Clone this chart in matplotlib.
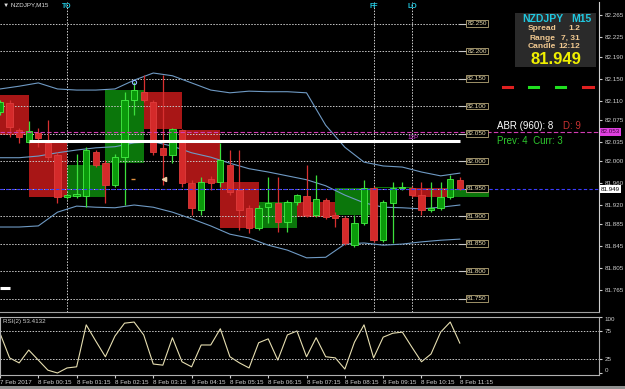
import numpy as np
import pandas as pd
import matplotlib
matplotlib.use('Agg')
import matplotlib.pyplot as plt
from matplotlib import transforms
from matplotlib.patches import Rectangle
from matplotlib.lines import Line2D

plt.rcParams['font.family'] = ['Liberation Sans', 'DejaVu Sans']

# NZDJPY M15 candles, index 0 = 8 Feb 00:15
idx = list(range(-4, 45))
opens = [82.089, 82.105, 82.056, 82.035, 82.051, 82.033, 82.011, 81.935, 81.936, 81.936,
         82.016, 81.996, 81.956, 82.007, 82.111, 82.125, 82.107, 82.024, 82.011, 82.056,
         81.960, 81.911, 81.967, 81.962, 81.993, 81.947, 81.915, 81.878, 81.916, 81.924,
         81.889, 81.925, 81.936, 81.902, 81.929, 81.902, 81.896, 81.847, 81.887, 81.951,
         81.856, 81.924, 81.951, 81.951, 81.938, 81.911, 81.915, 81.935, 81.965]
highs = [82.111, 82.111, 82.060, 82.073, 82.060, 82.075, 82.016, 81.940, 82.013, 82.025,
         82.020, 82.002, 82.013, 82.125, 82.144, 82.156, 82.111, 82.156, 82.060, 82.058,
         81.965, 81.971, 81.973, 82.033, 82.020, 82.020, 81.920, 81.920, 81.971, 81.971,
         81.929, 81.940, 81.993, 81.975, 81.933, 81.907, 81.900, 81.902, 81.965, 81.955,
         81.929, 81.962, 81.962, 81.955, 81.962, 81.962, 81.962, 81.975, 81.971]
lows = [82.084, 82.044, 82.033, 82.033, 82.025, 82.002, 81.924, 81.931, 81.933, 81.916,
        81.989, 81.924, 81.953, 81.920, 82.084, 82.107, 82.011, 81.956, 81.996, 81.953,
        81.902, 81.902, 81.947, 81.953, 81.938, 81.875, 81.869, 81.875, 81.887, 81.871,
        81.871, 81.920, 81.898, 81.898, 81.894, 81.880, 81.847, 81.844, 81.884, 81.853,
        81.853, 81.851, 81.947, 81.935, 81.902, 81.907, 81.911, 81.931, 81.947]
closes = [82.107, 82.062, 82.044, 82.055, 82.042, 82.007, 81.935, 81.938, 81.940, 82.020,
          81.993, 81.956, 82.007, 82.111, 82.129, 82.111, 82.016, 82.011, 82.058, 81.960,
          81.915, 81.962, 81.960, 82.002, 81.944, 81.911, 81.878, 81.915, 81.924, 81.889,
          81.925, 81.938, 81.902, 81.931, 81.898, 81.896, 81.851, 81.887, 81.951, 81.856,
          81.925, 81.951, 81.953, 81.938, 81.911, 81.915, 81.935, 81.967, 81.949]

# H1 boxes (start index of each hour, 23:00 .. 11:00)
h1_start = [-5, -1, 3, 7, 11, 15, 19, 23, 27, 31, 35, 39, 43]
h1_open = [82.120, 82.035, 81.935, 81.996, 82.125, 82.056, 81.962, 81.878, 81.925, 81.902, 81.951, 81.951, 81.935]
h1_close = [82.047, 81.935, 81.993, 82.129, 82.058, 81.960, 81.878, 81.925, 81.898, 81.951, 81.953, 81.935, 81.949]

# Bollinger bands, read every second bar
band_idx = list(range(-4, 45, 2))
bb_upper = [82.131, 82.136, 82.142, 82.131, 82.129, 82.129, 82.131, 82.147, 82.160, 82.155, 82.142, 82.129, 82.124,
            82.127, 82.126, 82.126, 82.124, 82.065, 82.025, 81.998, 81.991, 81.989, 81.980, 81.973, 81.978]
bb_mid = [82.006, 82.006, 82.009, 82.015, 82.020, 82.024, 82.026, 82.033, 82.035, 82.027, 82.015, 82.007, 81.996,
          81.986, 81.980, 81.973, 81.966, 81.955, 81.938, 81.924, 81.916, 81.915, 81.913, 81.916, 81.920]
bb_lower = [81.880, 81.880, 81.882, 81.907, 81.918, 81.916, 81.915, 81.920, 81.916, 81.907, 81.895, 81.882, 81.867,
            81.860, 81.847, 81.838, 81.824, 81.825, 81.849, 81.851, 81.847, 81.849, 81.853, 81.856, 81.858]

# RSI(2)
rsi = [71, 27, 18, 41, 23, 5, 0, 9, 11, 86, 57, 29, 66, 89, 91, 68, 16, 14, 63, 20, 11, 50, 50, 79, 29,
       18, 9, 54, 61, 23, 68, 75, 29, 63, 29, 27, 7, 55, 86, 27, 64, 71, 73, 46, 20, 34, 73, 91, 53.4]

grid_levels = [82.250, 82.200, 82.150, 82.100, 82.050, 82.000, 81.950, 81.900, 81.850, 81.800, 81.750]
price_ticks = [82.265, 82.225, 82.190, 82.150, 82.110, 82.075, 82.035, 82.000,
               81.960, 81.920, 81.885, 81.845, 81.805, 81.765]
time_pos = [-4] + list(range(0, 45, 4))
time_labels = ['7 Feb 2017'] + ['8 Feb %02d:15' % h for h in range(12)]
sessions = {'TO': 3, 'FF': 35, 'LO': 39}
bid = 81.949
abr_line = 82.053
box_line = 82.036

df = pd.DataFrame({'o': opens, 'h': highs, 'l': lows, 'c': closes}, index=idx)
up = df['c'] >= df['o']

W, H = 625, 389
def fx(x):
    return x / W
def fy(y):
    return 1 - y / H

fig = plt.figure(figsize=(6.25, 3.89), dpi=100, facecolor='black')
ax = fig.add_axes([0, fy(312), fx(599), (312 - 2) / H], facecolor='black')
ax2 = fig.add_axes([0, fy(375), fx(599), (375 - 317) / H], facecolor='black')

xmin, xmax = -4.0, 58.53
ax.set_xlim(xmin, xmax)
ax.set_ylim(81.7255, 82.2891)
ax2.set_xlim(xmin, xmax)
ax2.set_ylim(-3.6, 100)

# H1 boxes
h1_o = np.array(h1_open)
h1_c = np.array(h1_close)
h1_col = np.where(h1_c >= h1_o, '#0b760b', '#a81616')
ax.bar(h1_start, np.abs(h1_c - h1_o), bottom=np.minimum(h1_o, h1_c), width=4,
       align='edge', color=h1_col, linewidth=0, zorder=1)

# dotted round-number lines with their labels
lab_tr = transforms.blended_transform_factory(ax.transAxes, ax.transData)
for g in grid_levels:
    ax.hlines(g, xmin, 43.8, colors='#c8c8c8', linestyles=(0, (1.5, 1.5)), lw=0.7, zorder=2)
    ax.hlines(g, 43.8, 44.7, colors='#c8c8c8', lw=0.8, zorder=2)
    ax.text(477 / 599, g, '%.3f' % g, transform=lab_tr, ha='center', va='center',
            fontsize=4.6, color='#e8dcb0', zorder=6,
            bbox=dict(boxstyle='square,pad=0.15', fc='black', ec='#b8a878', lw=0.6))

# session lines
for name, pos in sessions.items():
    ax.axvline(pos, color='#d0d0d0', ls=(0, (1.5, 1.5)), lw=0.7, zorder=2)
    ax.text(pos, 82.281, name, color='#20c8e0', fontsize=5, fontweight='bold',
            ha='center', va='center')

# Bollinger bands
for b in (bb_upper, bb_mid, bb_lower):
    ax.plot(band_idx, b, color='#6f9ac4', lw=0.8, zorder=3)

# candles
wick_col = np.where(up, '#3ce03c', '#d83030')
ax.vlines(df.index, df['l'], df['h'], colors=wick_col, lw=0.9, zorder=4)
body = (df['c'] - df['o']).abs().clip(lower=0.0012)
ax.bar(df.index, body, bottom=df[['o', 'c']].min(axis=1), width=0.66,
       color=np.where(up, '#0a9a0a', '#d42a2a'), edgecolor=np.where(up, '#44f044', '#e03c3c'),
       linewidth=0.6, zorder=4)

# horizontal lines
ax.hlines(box_line, -1, 44, colors='white', lw=2.2, zorder=5)
ax.hlines(81.769, xmin, -3.0, colors='white', lw=2.2, zorder=5)
ax.axhline(abr_line, color='#d23cb4', ls=(0, (4, 2)), lw=0.8, zorder=5)
ax.axhline(bid, color='#3c3cff', ls=(0, (3, 2)), lw=0.8, zorder=5)

# small markers
ax.plot(10, 82.144, marker='o', ms=3, mfc='none', mec='#90b8ff', mew=0.8, zorder=6)
ax.plot(13.1, 81.967, marker='<', ms=3, color='#f0d0a8', zorder=6)
ax.plot(9.9, 81.967, marker='_', ms=3, color='#e09040', zorder=6)
ax.text(39.1, 82.042, '12P', color='#e040e0', fontsize=4.5, ha='center', va='center', zorder=6)

# price axis on the right
ax.yaxis.tick_right()
ax.set_yticks(price_ticks)
ax.set_yticklabels(['%.3f' % p for p in price_ticks])
ax.tick_params(axis='y', colors='#d0d0d0', labelsize=4.5, length=2, pad=2)
ax.set_xticks([])
for s in ['left', 'top']:
    ax.spines[s].set_visible(False)
ax.spines['right'].set_color('#d0d0d0')
ax.spines['bottom'].set_color('#a0a0a0')

ax.text(1.003, abr_line, '82.053', transform=lab_tr, ha='left', va='center', fontsize=4.5,
        color='#400040', bbox=dict(boxstyle='square,pad=0.2', fc='#e040e0', ec='none'))
ax.text(1.003, bid, '81.949', transform=lab_tr, ha='left', va='center', fontsize=4.5,
        color='black', bbox=dict(boxstyle='square,pad=0.2', fc='white', ec='none'))

# RSI panel
ax2.plot(idx, rsi, color='#e6deb0', lw=0.8)
for lv in (75, 25):
    ax2.axhline(lv, color='#c8c8c8', ls=(0, (1.5, 1.5)), lw=0.7)
ax2.yaxis.tick_right()
ax2.set_yticks([100, 75, 25, 0])
ax2.set_yticklabels(['100', '75', '25', '0'])
ax2.tick_params(axis='y', colors='#d0d0d0', labelsize=4.5, length=2, pad=2)
ylabs = ax2.get_yticklabels()
ylabs[0].set_va('top')
ylabs[3].set_va('bottom')
ax2.set_xticks(time_pos)
ax2.set_xticklabels(time_labels, ha='left')
ax2.tick_params(axis='x', colors='#d0d0d0', labelsize=4.5, length=2, pad=1.5)
for s in ax2.spines.values():
    s.set_color('#b0b0b0')
    s.set_linewidth(0.8)

# header texts
fig.text(fx(3), fy(5), '\u25bc NZDJPY,M15', color='#e0e0e0', fontsize=4.5, va='center')
fig.text(fx(3), fy(321), 'RSI(2) 53.4132', color='#d0d0d0', fontsize=4.5, va='center')

# info panel
fig.add_artist(Rectangle((fx(515), fy(67)), fx(596 - 515), (67 - 13) / H,
                         transform=fig.transFigure, fc='#2a2a2a', ec='none'))
fig.text(fx(522), fy(19), 'NZDJPY', color='#20c8e0', fontsize=7.5, fontweight='bold', va='center')
fig.text(fx(592), fy(19), 'M15', color='#20c8e0', fontsize=7.5, fontweight='bold', va='center', ha='right')
for yy, lab, val in [(29, 'Spread', '1.2'), (38, 'Range', '7, 31'), (47, 'Candle', '12:12')]:
    fig.text(fx(556), fy(yy), lab, color='#f0c890', fontsize=6, fontweight='bold', va='center', ha='right')
    fig.text(fx(580), fy(yy), val, color='#f0c890', fontsize=6, fontweight='bold', va='center', ha='right')
fig.text(fx(556), fy(59), '81.949', color='#f0f000', fontsize=12, fontweight='bold',
         va='center', ha='center')

for x0, x1, c in [(503, 512, '#e02020'), (529, 538, '#20e020'), (556, 565, '#20e020'), (583, 593, '#e02020')]:
    fig.add_artist(Line2D([fx(x0), fx(x1)], [fy(87), fy(87)], color=c, lw=2.2,
                          transform=fig.transFigure))

fig.text(fx(497), fy(126), 'ABR (960): 8', color='white', fontsize=7, va='center')
fig.text(fx(563), fy(126), 'D: 9', color='#c83232', fontsize=7, va='center')
fig.text(fx(497), fy(141), 'Prev: 4  Curr: 3', color='#2ec82e', fontsize=7, va='center')

# bottom tab strip
fig.add_artist(Rectangle((0, 0), 1, 3 / H, transform=fig.transFigure, fc='#909090', ec='none'))

fig.savefig('out.png', dpi=100, facecolor='black')
